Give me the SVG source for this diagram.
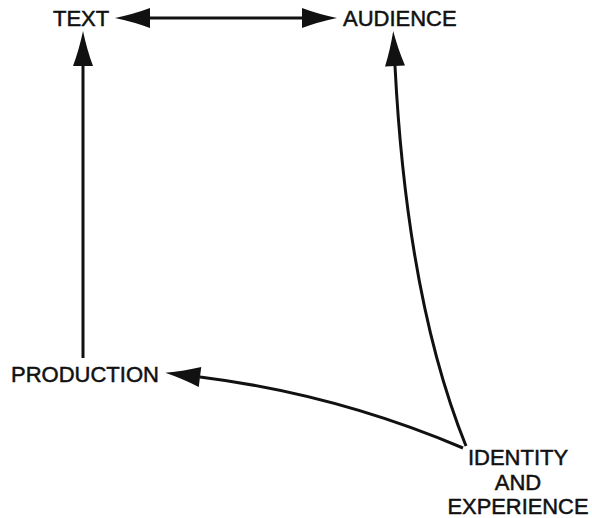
<svg xmlns="http://www.w3.org/2000/svg" width="592" height="518" viewBox="0 0 592 518">
  <style>
    .label { font-family: "Liberation Sans", Arial, sans-serif; font-size: 22px; fill: #111; stroke: #111; stroke-width: 0.5; }
    .mid { text-anchor: middle; }
    .link { fill: none; stroke: #111; stroke-width: 3; }
  </style>
  <defs>
    <!-- solid arrowhead: reference point is the base, the tip lies 35px ahead -->
    <marker id="head" markerUnits="userSpaceOnUse" viewBox="0 -11 36 22" refX="0" refY="0" markerWidth="36" markerHeight="22" orient="auto-start-reverse" overflow="visible">
      <path d="M35,0 Q16,-4 0,-10 L0,10 Q16,4 35,0 Z" fill="#111"/>
    </marker>
  </defs>

  <rect width="592" height="518" fill="#fff"/>

  <g id="connectors">
    <!-- TEXT <-> AUDIENCE -->
    <path class="link" d="M150,18 L302,18" marker-start="url(#head)" marker-end="url(#head)"/>
    <!-- PRODUCTION -> TEXT -->
    <path class="link" d="M83,358 L83,66" marker-end="url(#head)"/>
    <!-- IDENTITY AND EXPERIENCE -> AUDIENCE -->
    <path class="link" d="M466,446 Q407,300 395,66" marker-end="url(#head)"/>
    <!-- IDENTITY AND EXPERIENCE -> PRODUCTION -->
    <path class="link" d="M463,448 Q336,394 200,377" marker-end="url(#head)"/>
  </g>

  <g id="text-node">
    <text class="label" x="53" y="26">TEXT</text>
  </g>
  <g id="audience">
    <text class="label" x="343" y="26">AUDIENCE</text>
  </g>
  <g id="production">
    <text class="label" x="11" y="382">PRODUCTION</text>
  </g>
  <g id="identity-and-experience">
    <text class="label mid" x="518" y="465">IDENTITY</text>
    <text class="label mid" x="518" y="490">AND</text>
    <text class="label mid" x="518" y="514" textLength="141" lengthAdjust="spacingAndGlyphs">EXPERIENCE</text>
  </g>
</svg>
